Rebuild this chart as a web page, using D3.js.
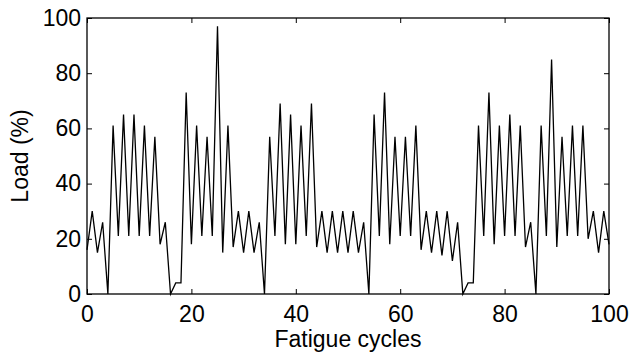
<!DOCTYPE html>
<html>
<head>
<meta charset="utf-8">
<script src="https://cdn.jsdelivr.net/npm/d3@7"></script>
<style>
  body { margin: 0; background: #fff; }
  text { font-family: "Liberation Sans", Arial, Helvetica, sans-serif; }
</style>
</head>
<body>
<div id="chart"></div>
<script>
// load history, one value per fatigue cycle (0..100)
var cycles = d3.range(0, 101)
var loads = [
  16, 30, 15, 26, 0, 61, 21, 65, 21, 65, 21, 61, 21, 57, 18, 26, 0, 4, 4, 73,
  18, 61, 21, 57, 21, 97, 15, 61, 17, 30, 15, 30, 15, 26, 0, 57, 21, 69, 18, 65,
  18, 61, 21, 69, 17, 30, 15, 30, 15, 30, 15, 30, 15, 26, 0, 65, 21, 73, 18, 57,
  21, 57, 21, 61, 16, 30, 15, 30, 14, 30, 12, 26, 0, 4, 4, 61, 21, 73, 18, 61,
  21, 65, 21, 61, 17, 26, 0, 61, 21, 85, 17, 57, 21, 61, 21, 61, 20, 30, 15, 30,
  18
]
var xTicks = [0, 20, 40, 60, 80, 100]
var yTicks = [0, 20, 40, 60, 80, 100]

const MARGIN = { LEFT: 87, RIGHT: 24, TOP: 18, BOTTOM: 60 }
const W = 633, H = 354
const width = W - MARGIN.LEFT - MARGIN.RIGHT
const height = H - MARGIN.TOP - MARGIN.BOTTOM

const svg = d3.select("#chart").append("svg")
    .attr("width", W)
    .attr("height", H)
const g = svg.append("g")
    .attr("transform", "translate(" + MARGIN.LEFT + "," + MARGIN.TOP + ")")

var x = d3.scaleLinear().domain([0, 100]).range([0, width])
var y = d3.scaleLinear().domain([0, 100]).range([height, 0])

// the load line
var line = d3.line()
    .x(function (d, i) { return x(cycles[i]) })
    .y(function (d) { return y(d) })
g.append("path")
    .datum(loads)
    .attr("d", line)
    .attr("fill", "none")
    .attr("stroke", "#000")
    .attr("stroke-width", 1.3)
    .attr("stroke-linejoin", "miter")

// matlab style box, ticks pointing inwards
function styleAxis(sel) {
    sel.select(".domain").remove()
    sel.selectAll(".tick line").attr("stroke", "#000").attr("stroke-width", 1)
    sel.selectAll(".tick text")
        .style("font-size", "23px")
        .attr("fill", "#000")
}
g.append("g")
    .attr("transform", "translate(0," + height + ")")
    .call(d3.axisBottom(x).tickValues(xTicks).tickSizeInner(-5).tickPadding(12))
    .call(styleAxis)
g.append("g")
    .call(d3.axisTop(x).tickValues(xTicks).tickSizeInner(-5).tickFormat(""))
    .call(styleAxis)
g.append("g")
    .call(d3.axisLeft(y).tickValues(yTicks).tickSizeInner(-5).tickPadding(6))
    .call(styleAxis)
g.append("g")
    .attr("transform", "translate(" + width + ",0)")
    .call(d3.axisRight(y).tickValues(yTicks).tickSizeInner(-5).tickFormat(""))
    .call(styleAxis)

g.append("rect")
    .attr("width", width)
    .attr("height", height)
    .attr("fill", "none")
    .attr("stroke", "#000")
    .attr("stroke-width", 1.3)

// axis titles
g.append("text")
    .attr("x", width / 2)
    .attr("y", height + 53)
    .attr("text-anchor", "middle")
    .style("font-size", "23px")
    .text("Fatigue cycles")
g.append("text")
    .attr("transform", "translate(" + (28 - MARGIN.LEFT) + "," + (height / 2) + ") rotate(-90)")
    .attr("text-anchor", "middle")
    .style("font-size", "23px")
    .text("Load (%)")
</script>
</body>
</html>
